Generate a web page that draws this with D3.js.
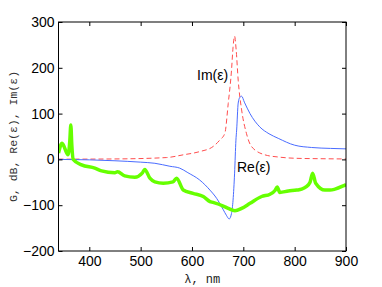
<!DOCTYPE html>
<html><head><meta charset="utf-8">
<script src="https://cdn.jsdelivr.net/npm/d3@7"></script>
<style>body{margin:0;background:#fff}svg{display:block}</style>
</head><body>
<svg id="c" width="382" height="287"></svg>
<script>
// Gain curve G (dB)
const gLambda = [340, 347, 358.7, 362, 364, 366, 368.6, 385, 410.7, 423.8, 449.7, 455, 469, 488.7, 503, 508, 518, 527.7, 544, 563, 570, 583, 602, 622, 635, 641, 661, 670.6, 683.6, 696.7, 713, 735.7, 752, 761.6, 766, 771, 787.5, 804, 813.6, 822, 830, 835, 841, 859, 869, 878.5, 898, 900];
const gValues  = [14, 35, 10, 40, 75, 30, 0, -12, -19, -25, -29, -27, -36, -39, -30, -22, -41, -49, -52, -49, -41, -67, -74, -81, -92, -94, -102, -107, -112, -107, -96, -81, -76, -68, -60, -72, -69, -67, -65, -60, -50, -30, -52, -67, -67, -65, -56, -55];
// Re(eps)
const reLambda = [340, 400, 450, 500, 527.7, 557, 576, 592, 615, 635, 648, 661, 667, 672.5, 677, 680, 683, 685.6, 687, 690, 693, 696.7, 702, 713, 732, 750, 768, 800, 833, 870, 900];
const reValues = [0, -1, -3, -6, -8.5, -15, -19, -29, -45, -67, -85, -110, -122, -130, -118, -89, -30, 42, 64, 123, 135, 138, 125, 100, 71, 56, 46, 31, 26, 24, 23];
// Im(eps)
const imLambda = [340, 450, 550, 583, 615, 641, 654, 664, 670.6, 677, 680, 683, 686, 690, 696.7, 706, 716, 742, 770, 800, 850, 900];
const imValues = [0.5, 1, 4, 10, 17, 28, 42, 57, 122, 195, 245, 269, 240, 173, 108, 57, 28, 10, 5, 2.5, 1.5, 1];
const xTicks = [400, 500, 600, 700, 800, 900];
const yTicks = [-200, -100, 0, 100, 200, 300];

const svg = d3.select("#c");
const L = 58.5, R = 346, T = 22, B = 251;
const x = d3.scaleLinear().domain([340, 900]).range([L, R]);
const y = d3.scaleLinear().domain([-200, 300]).range([B, T]);

svg.append("defs").append("clipPath").attr("id","pc")
  .append("rect").attr("x",L).attr("y",T).attr("width",R-L).attr("height",B-T);

const line = (xs, vs) => d3.line().curve(d3.curveMonotoneX)
  .x((d,i)=>x(xs[i])).y((d,i)=>y(vs[i]))(vs);

const g = svg.append("g").attr("clip-path","url(#pc)");
g.append("path").attr("d", line(imLambda, imValues)).attr("fill","none")
  .attr("stroke","#ff4d4d").attr("stroke-width",1).attr("stroke-dasharray","5,3");
g.append("path").attr("d", line(reLambda, reValues)).attr("fill","none")
  .attr("stroke","#4a6cff").attr("stroke-width",1);
g.append("path").attr("d", line(gLambda, gValues)).attr("fill","none")
  .attr("stroke","#66ff00").attr("stroke-width",3.5).attr("stroke-linejoin","round");

const font = "'Liberation Sans', Arial, Helvetica, sans-serif";
function styleAxis(sel, hideText){
  sel.select(".domain").remove();
  sel.selectAll(".tick line").attr("stroke","#000");
  sel.selectAll("text").attr("font-family",font).attr("font-size",14).attr("fill","#000");
  if (hideText) sel.selectAll("text").remove();
}
svg.append("g").attr("transform",`translate(0,${B})`)
  .call(d3.axisBottom(x).tickValues(xTicks).tickSize(-4).tickPadding(5).tickFormat(d3.format("d")))
  .call(s=>styleAxis(s,false));
svg.append("g").attr("transform",`translate(0,${T})`)
  .call(d3.axisTop(x).tickValues(xTicks).tickSize(-4))
  .call(s=>styleAxis(s,true));
svg.append("g").attr("transform",`translate(${L},0)`)
  .call(d3.axisLeft(y).tickValues(yTicks).tickSize(-4).tickPadding(4).tickFormat(d=>d<0?"\u2212"+Math.abs(d):d))
  .call(s=>styleAxis(s,false));
svg.append("g").attr("transform",`translate(${R},0)`)
  .call(d3.axisRight(y).tickValues(yTicks).tickSize(-4))
  .call(s=>styleAxis(s,true));

svg.append("rect").attr("x",L).attr("y",T).attr("width",R-L).attr("height",B-T)
  .attr("fill","none").attr("stroke","#000").attr("stroke-width",1);

const mono = "'Liberation Mono', 'DejaVu Sans Mono', monospace";
svg.append("text").attr("x",(L+R)/2).attr("y",283).attr("text-anchor","middle")
  .attr("font-family",mono).attr("font-size",12).attr("fill","#222").text("\u03bb,  nm");
svg.append("text").attr("transform",`translate(17,${(T+B)/2}) rotate(-90)`).attr("text-anchor","middle")
  .attr("font-family",mono).attr("font-size",11.5).attr("fill","#333").text("G,  dB,  Re(\u03b5),  Im(\u03b5)");

svg.append("text").attr("x",197).attr("y",80).attr("font-family",font).attr("font-size",14).text("Im(\u03b5)");
svg.append("text").attr("x",237).attr("y",172).attr("font-family",font).attr("font-size",14).text("Re(\u03b5)");
</script>
</body></html>
